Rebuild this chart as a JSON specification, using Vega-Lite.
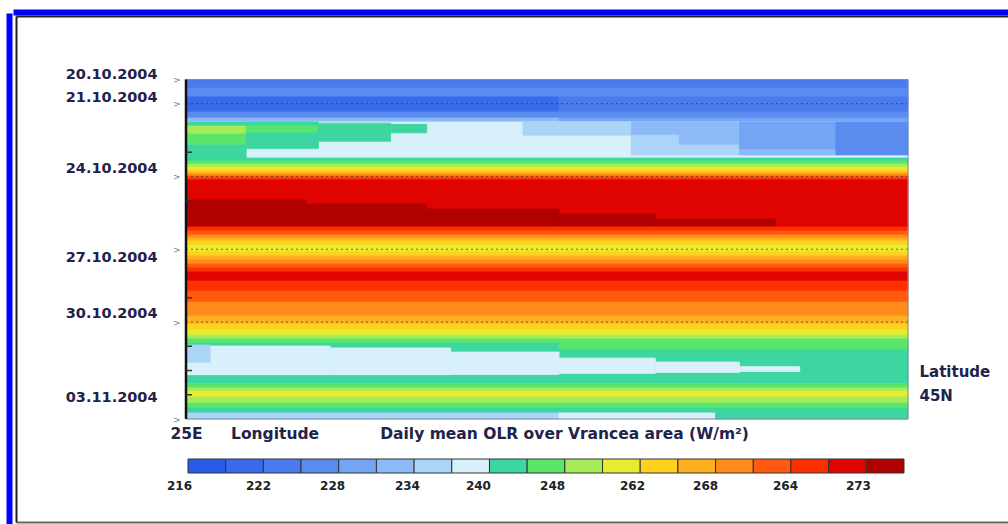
{
  "$schema": "https://vega.github.io/schema/vega-lite/v6.json",
  "width": 992,
  "height": 506,
  "autosize": {"type": "none"},
  "padding": {"left": 16, "top": 16, "right": 0, "bottom": 2},
  "background": "white",
  "config": {"view": {"stroke": null}, "axis": {"grid": false}},
  "resolve": {"axis": {"x": "independent", "y": "independent"}},
  "layer": [
    {
      "data": {"values": [
        {"lon1": 25, "lon2": 28, "d1": 0, "d2": 0.35, "olr": 223},
        {"lon1": 25, "lon2": 28, "d1": 0.35, "d2": 0.72, "olr": 226},
        {"lon1": 25, "lon2": 26.55, "d1": 0.72, "d2": 1.34, "olr": 220},
        {"lon1": 26.55, "lon2": 28, "d1": 0.72, "d2": 1.34, "olr": 223},
        {"lon1": 25, "lon2": 28, "d1": 1.34, "d2": 1.59, "olr": 226},
        {"lon1": 25, "lon2": 26.55, "d1": 1.59, "d2": 1.75, "olr": 232},
        {"lon1": 26.55, "lon2": 28, "d1": 1.59, "d2": 1.75, "olr": 229},
        {"lon1": 25, "lon2": 28, "d1": 1.75, "d2": 3.24, "olr": 238},
        {"lon1": 26.4, "lon2": 26.85, "d1": 1.75, "d2": 2.3, "olr": 235},
        {"lon1": 26.85, "lon2": 27.05, "d1": 1.75, "d2": 2.3, "olr": 232},
        {"lon1": 26.85, "lon2": 27.05, "d1": 2.3, "d2": 3.11, "olr": 235},
        {"lon1": 27.05, "lon2": 27.3, "d1": 1.75, "d2": 2.7, "olr": 232},
        {"lon1": 27.05, "lon2": 27.3, "d1": 2.7, "d2": 3.11, "olr": 235},
        {"lon1": 27.3, "lon2": 27.7, "d1": 1.75, "d2": 2.9, "olr": 229},
        {"lon1": 27.3, "lon2": 27.7, "d1": 2.9, "d2": 3.11, "olr": 232},
        {"lon1": 27.7, "lon2": 28, "d1": 1.75, "d2": 3.11, "olr": 226},
        {"lon1": 25, "lon2": 25.25, "d1": 1.75, "d2": 1.92, "olr": 241},
        {"lon1": 25, "lon2": 25.25, "d1": 1.92, "d2": 2.25, "olr": 247},
        {"lon1": 25, "lon2": 25.25, "d1": 2.25, "d2": 2.7, "olr": 244},
        {"lon1": 25, "lon2": 25.25, "d1": 2.7, "d2": 3.24, "olr": 241},
        {"lon1": 25.25, "lon2": 25.55, "d1": 1.75, "d2": 1.92, "olr": 241},
        {"lon1": 25.25, "lon2": 25.55, "d1": 1.92, "d2": 2.2, "olr": 244},
        {"lon1": 25.25, "lon2": 25.55, "d1": 2.2, "d2": 2.85, "olr": 241},
        {"lon1": 25.55, "lon2": 25.85, "d1": 1.8, "d2": 2.55, "olr": 241},
        {"lon1": 25.85, "lon2": 26.0, "d1": 1.85, "d2": 2.2, "olr": 241},
        {"lon1": 25, "lon2": 28, "d1": 3.24, "d2": 3.36, "olr": 241},
        {"lon1": 25, "lon2": 28, "d1": 3.36, "d2": 3.49, "olr": 244},
        {"lon1": 25, "lon2": 28, "d1": 3.49, "d2": 3.61, "olr": 247},
        {"lon1": 25, "lon2": 28, "d1": 3.61, "d2": 3.73, "olr": 250},
        {"lon1": 25, "lon2": 28, "d1": 3.73, "d2": 3.81, "olr": 253},
        {"lon1": 25, "lon2": 28, "d1": 3.81, "d2": 3.9, "olr": 256},
        {"lon1": 25, "lon2": 28, "d1": 3.9, "d2": 3.98, "olr": 259},
        {"lon1": 25, "lon2": 28, "d1": 3.98, "d2": 4.06, "olr": 262},
        {"lon1": 25, "lon2": 28, "d1": 4.06, "d2": 4.14, "olr": 265},
        {"lon1": 25, "lon2": 28, "d1": 4.14, "d2": 6.08, "olr": 268},
        {"lon1": 25, "lon2": 25.5, "d1": 4.97, "d2": 6.08, "olr": 271},
        {"lon1": 25.5, "lon2": 26, "d1": 5.13, "d2": 6.08, "olr": 271},
        {"lon1": 26, "lon2": 26.55, "d1": 5.34, "d2": 6.08, "olr": 271},
        {"lon1": 26.55, "lon2": 26.95, "d1": 5.55, "d2": 6.08, "olr": 271},
        {"lon1": 26.95, "lon2": 27.45, "d1": 5.75, "d2": 6.08, "olr": 271},
        {"lon1": 25, "lon2": 28, "d1": 6.08, "d2": 6.25, "olr": 265},
        {"lon1": 25, "lon2": 28, "d1": 6.25, "d2": 6.41, "olr": 262},
        {"lon1": 25, "lon2": 28, "d1": 6.41, "d2": 6.54, "olr": 259},
        {"lon1": 25, "lon2": 28, "d1": 6.54, "d2": 6.66, "olr": 256},
        {"lon1": 25, "lon2": 28, "d1": 6.66, "d2": 6.83, "olr": 253},
        {"lon1": 25, "lon2": 28, "d1": 6.83, "d2": 7.11, "olr": 250},
        {"lon1": 25, "lon2": 28, "d1": 7.11, "d2": 7.28, "olr": 253},
        {"lon1": 25, "lon2": 28, "d1": 7.28, "d2": 7.44, "olr": 256},
        {"lon1": 25, "lon2": 28, "d1": 7.44, "d2": 7.61, "olr": 259},
        {"lon1": 25, "lon2": 28, "d1": 7.61, "d2": 7.77, "olr": 262},
        {"lon1": 25, "lon2": 28, "d1": 7.77, "d2": 7.94, "olr": 265},
        {"lon1": 25, "lon2": 28, "d1": 7.94, "d2": 8.31, "olr": 268},
        {"lon1": 25, "lon2": 28, "d1": 8.31, "d2": 8.72, "olr": 265},
        {"lon1": 25, "lon2": 28, "d1": 8.72, "d2": 9.18, "olr": 262},
        {"lon1": 25, "lon2": 28, "d1": 9.18, "d2": 9.75, "olr": 259},
        {"lon1": 25, "lon2": 28, "d1": 9.75, "d2": 10.08, "olr": 256},
        {"lon1": 25, "lon2": 28, "d1": 10.08, "d2": 10.33, "olr": 253},
        {"lon1": 25, "lon2": 28, "d1": 10.33, "d2": 10.54, "olr": 250},
        {"lon1": 25, "lon2": 28, "d1": 10.54, "d2": 10.7, "olr": 247},
        {"lon1": 25, "lon2": 28, "d1": 10.7, "d2": 10.87, "olr": 244},
        {"lon1": 25, "lon2": 28, "d1": 10.87, "d2": 12.21, "olr": 241},
        {"lon1": 26.55, "lon2": 28, "d1": 10.87, "d2": 11.1, "olr": 244},
        {"lon1": 25.1, "lon2": 25.6, "d1": 10.99, "d2": 12.21, "olr": 238},
        {"lon1": 25.6, "lon2": 26.1, "d1": 11.07, "d2": 12.21, "olr": 238},
        {"lon1": 26.1, "lon2": 26.55, "d1": 11.24, "d2": 12.17, "olr": 238},
        {"lon1": 26.55, "lon2": 26.95, "d1": 11.49, "d2": 12.12, "olr": 238},
        {"lon1": 26.95, "lon2": 27.3, "d1": 11.65, "d2": 12.08, "olr": 238},
        {"lon1": 27.3, "lon2": 27.55, "d1": 11.84, "d2": 12.04, "olr": 238},
        {"lon1": 25, "lon2": 25.1, "d1": 10.95, "d2": 11.69, "olr": 235},
        {"lon1": 25, "lon2": 25.1, "d1": 11.69, "d2": 12.21, "olr": 238},
        {"lon1": 25, "lon2": 28, "d1": 12.21, "d2": 12.54, "olr": 241},
        {"lon1": 25, "lon2": 28, "d1": 12.54, "d2": 12.72, "olr": 244},
        {"lon1": 25, "lon2": 28, "d1": 12.72, "d2": 12.85, "olr": 247},
        {"lon1": 25, "lon2": 28, "d1": 12.85, "d2": 13.09, "olr": 250},
        {"lon1": 25, "lon2": 28, "d1": 13.09, "d2": 13.34, "olr": 247},
        {"lon1": 25, "lon2": 28, "d1": 13.34, "d2": 13.55, "olr": 244},
        {"lon1": 25, "lon2": 28, "d1": 13.55, "d2": 13.75, "olr": 241},
        {"lon1": 25, "lon2": 26.55, "d1": 13.75, "d2": 14, "olr": 235},
        {"lon1": 26.55, "lon2": 27.2, "d1": 13.75, "d2": 14, "olr": 238},
        {"lon1": 27.2, "lon2": 28, "d1": 13.75, "d2": 14, "olr": 241}
      ]},
      "mark": {"type": "rect", "strokeWidth": 0.8},
      "encoding": {
        "x": {"field": "lon1", "type": "quantitative",
              "scale": {"domain": [24.2936, 28.4155], "nice": false, "zero": false},
              "axis": {"orient": "top", "offset": 4, "domain": true, "domainColor": "#0000ff", "domainWidth": 6, "domainCap": "square", "ticks": false, "labels": false, "grid": false, "title": null}},
        "x2": {"field": "lon2"},
        "y": {"field": "d1", "type": "quantitative",
              "scale": {"domain": [-2.6186, 18.2474], "nice": false, "zero": false, "reverse": true},
              "axis": {"orient": "left", "offset": 7, "domain": true, "domainColor": "#0000ff", "domainWidth": 6, "domainCap": "square", "ticks": false, "labels": false, "grid": false, "title": null}},
        "y2": {"field": "d2"},
        "color": {"field": "olr", "type": "quantitative",
                  "scale": {"type": "threshold",
                            "domain": [219, 222, 225, 228, 231, 234, 237, 240, 243, 246, 249, 252, 255, 258, 261, 264, 267, 270],
                            "range": ["#2a5be8", "#3a6aec", "#4a7bee", "#5a8cf0", "#74a4f4", "#8cbaf6", "#aad4f8", "#d8f0fa", "#3dd6a0", "#5ae66a", "#a6ec5a", "#e8ec2e", "#ffd21e", "#ffb020", "#ff8c18", "#ff5a10", "#ff3000", "#e00400", "#b00000"]},
                  "legend": {"type": "gradient", "orient": "none", "legendX": 172, "legendY": 443, "direction": "horizontal",
                             "gradientLength": 716, "gradientThickness": 14, "title": null, "padding": 0,
                             "gradientStrokeColor": "#333333", "gradientStrokeWidth": 1,
                             "labelExpr": "''", "labelOverlap": false}},
        "stroke": {"field": "olr", "type": "quantitative",
                   "scale": {"type": "threshold",
                             "domain": [219, 222, 225, 228, 231, 234, 237, 240, 243, 246, 249, 252, 255, 258, 261, 264, 267, 270],
                             "range": ["#2a5be8", "#3a6aec", "#4a7bee", "#5a8cf0", "#74a4f4", "#8cbaf6", "#aad4f8", "#d8f0fa", "#3dd6a0", "#5ae66a", "#a6ec5a", "#e8ec2e", "#ffd21e", "#ffb020", "#ff8c18", "#ff5a10", "#ff3000", "#e00400", "#b00000"]},
                   "legend": null}
      }
    },
    {
      "data": {"values": [{"day": 1}, {"day": 4}, {"day": 7}, {"day": 10}]},
      "mark": {"type": "rule", "stroke": "#333333", "strokeWidth": 1, "strokeDash": [2, 3], "opacity": 0.7},
      "encoding": {
        "x": {"datum": 25, "type": "quantitative", "scale": {"domain": [24.2936, 28.4155], "nice": false, "zero": false},
              "axis": {"orient": "top", "offset": 0, "domain": true, "domainColor": "#222222", "domainWidth": 2, "ticks": false, "labels": false, "grid": false, "title": null}},
        "x2": {"datum": 28},
        "y": {"field": "day", "type": "quantitative",
              "scale": {"domain": [-2.6186, 18.2474], "nice": false, "zero": false, "reverse": true},
              "axis": {"orient": "left", "offset": -170, "values": [0, 1, 4, 7, 10, 14], "labelExpr": "'>'", "domain": false, "ticks": false, "grid": false, "title": null,
                       "labelFont": "DejaVu Sans", "labelFontSize": 9, "labelColor": "#777777", "labelPadding": 6, "labelAlign": "right", "labelBaseline": "middle",
                       "labelOverlap": false, "labelFlush": false, "labelBound": false}}
      }
    },
    {
      "data": {"values": [{"lon1": 25, "lon2": 28, "d1": 0, "d2": 14}]},
      "mark": {"type": "rect", "filled": false, "stroke": "#7d8ca3", "strokeWidth": 1},
      "encoding": {
        "x": {"field": "lon1", "type": "quantitative",
              "scale": {"domain": [24.2936, 28.4155], "nice": false, "zero": false},
              "axis": {"orient": "bottom", "offset": -102, "values": [25, 25.368, 26.571],
                       "labelExpr": "datum.value < 25.1 ? '25E' : datum.value < 26 ? 'Longitude' : 'Daily mean OLR over Vrancea area (W/m²)'",
                       "domain": false, "ticks": false, "grid": false, "title": null,
                       "labelFont": "DejaVu Sans", "labelFontWeight": "bold", "labelFontSize": 15.5, "labelColor": "#22224a",
                       "labelPadding": 6, "labelBaseline": "top", "labelAlign": "center", "labelLimit": 0,
                       "labelOverlap": false, "labelFlush": false, "labelBound": false}},
        "x2": {"field": "lon2"},
        "y": {"field": "d1", "type": "quantitative",
              "scale": {"domain": [-2.6186, 18.2474], "nice": false, "zero": false, "reverse": true},
              "axis": {"orient": "left", "offset": -170, "values": [-0.19, 0.75, 3.65, 7.32, 9.67, 13.13],
                       "labelExpr": "datum.value < 0 ? '20.10.2004' : datum.value < 1 ? '21.10.2004' : datum.value < 4 ? '24.10.2004' : datum.value < 8 ? '27.10.2004' : datum.value < 10 ? '30.10.2004' : '03.11.2004'",
                       "domain": false, "ticks": false, "grid": false, "title": null,
                       "labelFont": "DejaVu Sans", "labelFontWeight": "bold", "labelFontSize": 14.5, "labelColor": "#22224a",
                       "labelPadding": 29, "labelAlign": "right", "labelBaseline": "middle", "labelLimit": 0,
                       "labelOverlap": false, "labelFlush": false, "labelBound": false}},
        "y2": {"field": "d2"}
      }
    },
    {
      "data": {"values": [{"lon1": 25, "d1": 0, "d2": 14}]},
      "mark": {"type": "rule", "stroke": "#111111", "strokeWidth": 2.5},
      "encoding": {
        "x": {"field": "lon1", "type": "quantitative", "scale": {"domain": [24.2936, 28.4155], "nice": false, "zero": false},
              "axis": {"orient": "bottom", "offset": 0, "domain": true, "domainColor": "#666666", "domainWidth": 2, "ticks": false, "labels": false, "grid": false, "title": null}},
        "y": {"field": "d1", "type": "quantitative",
              "scale": {"domain": [-2.6186, 18.2474], "nice": false, "zero": false, "reverse": true},
              "axis": {"orient": "right", "offset": -100, "values": [12.05, 13.04],
                       "labelExpr": "datum.value < 12.5 ? 'Latitude' : '45N'",
                       "domain": false, "ticks": false, "grid": false, "title": null,
                       "labelFont": "DejaVu Sans", "labelFontWeight": "bold", "labelFontSize": 15, "labelColor": "#22224a",
                       "labelPadding": 11, "labelAlign": "left", "labelBaseline": "middle", "labelLimit": 0,
                       "labelOverlap": false, "labelFlush": false, "labelBound": false}},
        "y2": {"field": "d2"}
      }
    },
    {
      "data": {"values": [{"day": 3}, {"day": 5}, {"day": 9}, {"day": 11}, {"day": 12}, {"day": 13}]},
      "mark": {"type": "rule", "stroke": "#333333", "strokeWidth": 1.5},
      "encoding": {
        "x": {"datum": 25, "type": "quantitative", "scale": {"domain": [24.2936, 28.4155], "nice": false, "zero": false},
              "axis": {"orient": "bottom", "offset": -49, "values": [24.971, 25.299, 25.607, 25.918, 26.213, 26.521, 26.853, 27.157, 27.489, 27.792],
                       "labelExpr": "datum.value < 25.1 ? '216' : datum.value < 25.4 ? '222' : datum.value < 25.7 ? '228' : datum.value < 26 ? '234' : datum.value < 26.3 ? '240' : datum.value < 26.6 ? '248' : datum.value < 27 ? '262' : datum.value < 27.3 ? '268' : datum.value < 27.6 ? '264' : '273'",
                       "domain": false, "ticks": false, "grid": false, "title": null,
                       "labelFont": "DejaVu Sans", "labelFontWeight": "bold", "labelFontSize": 12, "labelColor": "#222222",
                       "labelPadding": 7, "labelBaseline": "top", "labelAlign": "center", "labelLimit": 0,
                       "labelOverlap": false, "labelFlush": false, "labelBound": false}},
        "x2": {"datum": 25.025},
        "y": {"field": "day", "type": "quantitative",
              "scale": {"domain": [-2.6186, 18.2474], "nice": false, "zero": false, "reverse": true},
              "axis": {"orient": "left", "offset": 0, "domain": true, "domainColor": "#222222", "domainWidth": 2, "ticks": false, "labels": false, "grid": false, "title": null}}
      }
    }
  ]
}
